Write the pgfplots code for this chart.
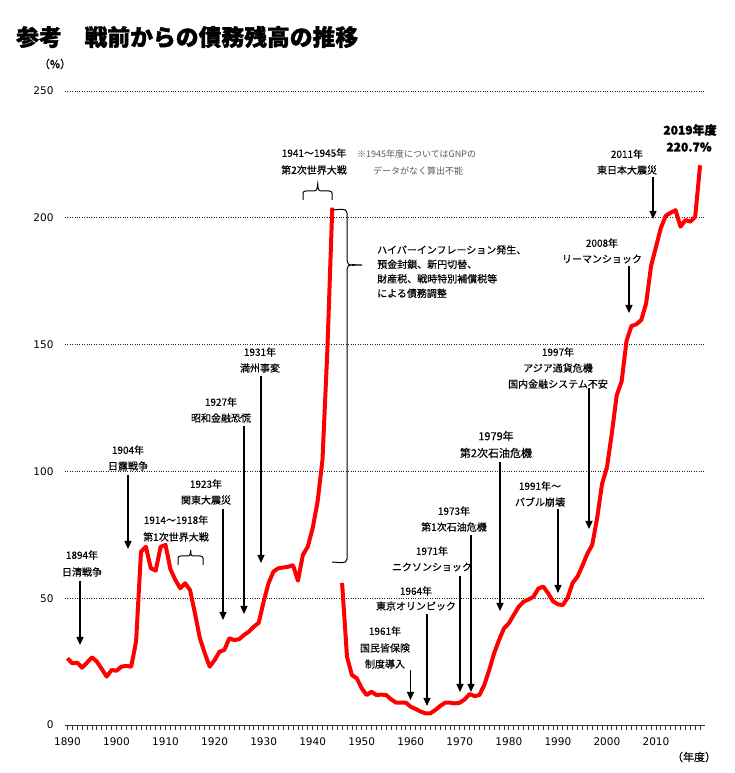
\documentclass[border=0pt]{standalone}
\usepackage{pgfplots}
\pgfplotsset{compat=1.18}
\usepackage{fontspec}
\setmainfont{DejaVu Sans}
\newfontfamily\jp[BoldFeatures={FakeBold=1.6}]{Noto Sans CJK JP}
\newfontfamily\jpl[FakeBold=0.35]{Noto Sans CJK JP}
\usetikzlibrary{arrows.meta}

% Government debt relative to GDP (GNP before the war), fiscal years
\pgfplotstableread{
year value
1890 26.3
1891 24.3
1892 24.6
1893 22.6
1894 24.6
1895 26.7
1896 25.0
1897 22.1
1898 19.1
1899 21.7
1900 21.4
1901 23.0
1902 23.3
1903 23.0
1904 33.0
1905 68.3
1906 70.3
1907 61.8
1908 60.9
1909 70.3
1910 71.0
1911 61.4
1912 57.2
1913 53.9
1914 55.9
1915 53.2
1916 44.0
1917 34.2
1918 28.3
1919 23.0
1920 25.6
1921 28.9
1922 29.6
1923 34.2
1924 33.5
1925 33.8
1926 35.5
1927 36.8
1928 38.8
1929 40.3
1930 48.6
1931 55.9
1932 60.5
1933 61.8
1934 62.1
1935 62.4
1936 63.0
1937 56.9
1938 67.0
1939 70.3
1940 77.6
1941 88.0
1942 104.5
1943 148.0
1944 204.0
}\prewar

\pgfplotstableread{
year value
1946 56.0
1947 26.9
1948 19.7
1949 18.4
1950 14.5
1951 11.8
1952 13.1
1953 11.8
1954 12.0
1955 11.8
1956 10.1
1957 8.8
1958 8.8
1959 8.8
1960 7.2
1961 6.3
1962 5.3
1963 4.6
1964 4.6
1965 5.9
1966 7.5
1967 8.8
1968 8.8
1969 8.5
1970 8.8
1971 10.1
1972 12.2
1973 11.4
1974 11.8
1975 15.8
1976 21.7
1977 28.3
1978 33.5
1979 38.1
1980 40.1
1981 43.4
1982 46.6
1983 48.6
1984 49.5
1985 50.5
1986 53.8
1987 54.6
1988 52.0
1989 48.8
1990 47.6
1991 47.3
1992 50.2
1993 56.0
1994 58.5
1995 62.8
1996 67.5
1997 71.0
1998 81.5
1999 95.0
2000 101.5
2001 115.0
2002 130.0
2003 135.5
2004 151.5
2005 157.3
2006 158.0
2007 159.7
2008 166.3
2009 181.0
2010 188.5
2011 196.0
2012 200.8
2013 202.0
2014 203.0
2015 196.5
2016 199.1
2017 198.5
2018 200.4
2019 220.7
}\postwar

\begin{document}
\begin{tikzpicture}
\path[use as bounding box] (0,0) rectangle (734pt,773pt);

\begin{axis}[
  at={(65pt,48pt)}, anchor=south west,
  scale only axis, width=640pt, height=634pt,
  xmin=1889.5, xmax=2020, ymin=0, ymax=250,
  axis x line*=bottom, axis y line*=left,
  y axis line style={draw=none},
  x axis line style={black!80, line width=1pt},
  xtick={1890,1900,...,2010},
  minor xtick={1890,1891,...,2019},
  tick align=outside,
  major tick length=5pt, minor tick length=5pt,
  xtick style={black!80, line width=0.8pt},
  ytick={0,50,...,250}, ytick style={draw=none},
  ymajorgrids, grid style={dotted, black!85, line width=0.9pt},
  /pgf/number format/assume math mode=true,
  /pgf/number format/1000 sep={},
  tick label style={font=\fontsize{10.5}{12}\selectfont, text=black},
  xticklabel style={yshift=-4pt},
  yticklabel style={xshift=-3pt},
  clip=false,
]
\addplot[red, line width=4pt, line join=round] table[x=year, y=value] {\prewar};
\addplot[red, line width=4pt, line join=round] table[x=year, y=value] {\postwar};
\end{axis}

% annotations, positioned with y measured downward from the top edge
\begin{scope}[x=1pt, y=-1pt, yshift=773pt,
  lbl/.style={font=\jpl\fontsize{10}{12}\selectfont, text=black, align=center, inner sep=0pt},
  arr/.style={line width=1.2pt, black, -{Triangle[length=8pt,width=7pt]}},
  brace/.style={line width=1pt, black}]

\node[anchor=west, font=\jp\bfseries\fontsize{22.8}{25}\selectfont, inner sep=0pt] at (16,37) {参考　戦前からの債務残高の推移};
\node[font=\jpl\fontsize{11}{12}\selectfont, inner sep=0pt] at (55,64) {（\%）};
\node[font=\jpl\fontsize{11}{12}\selectfont, inner sep=0pt] at (694,757) {（年度）};

% 1894
\node[lbl] at (82,555) {1894年};
\node[lbl] at (82,572) {日清戦争};
\draw[arr] (80,581) -- (80,645);
% 1904
\node[lbl] at (128,450) {1904年};
\node[lbl] at (128,466) {日露戦争};
\draw[arr] (128,475) -- (128,549);
% 1914-1918
\node[lbl] at (176,520) {1914～1918年};
\node[lbl] at (176,537) {第1次世界大戦};
\draw[brace] (178,565) -- (178,558) to[out=90,in=180] (181,556) -- (188,556) to[out=0,in=-90] (190.7,550) to[out=-90,in=180] (193,556) -- (200,556) to[out=0,in=90] (203,558) -- (203,565);
% 1923
\node[lbl] at (206,484) {1923年};
\node[lbl] at (206,500) {関東大震災};
\draw[arr] (223,509) -- (223,620);
% 1927
\node[lbl] at (221,402) {1927年};
\node[lbl] at (221,418) {昭和金融恐慌};
\draw[arr] (244,426) -- (244,614);
% 1931
\node[lbl] at (260,352) {1931年};
\node[lbl] at (260,368) {満州事変};
\draw[arr] (261,376) -- (261,563);
% 1941-1945
\node[lbl] at (314,153) {1941～1945年};
\node[lbl] at (314,170) {第2次世界大戦};
\draw[brace] (303,200) -- (303,193) to[out=90,in=180] (306,191) -- (314,191) to[out=0,in=-90] (317.7,184) to[out=-90,in=180] (321,191) -- (329,191) to[out=0,in=90] (332,193) -- (332,200);
\node[anchor=west, font=\jp\fontsize{9}{10}\selectfont, text=black!65, inner sep=0pt] at (357,154) {※1945年度についてはGNPの};
\node[anchor=west, font=\jp\fontsize{9}{10}\selectfont, text=black!65, inner sep=0pt] at (373,171) {データがなく算出不能};
% post-war adjustment bracket
\draw[brace] (332,210) to[out=0,in=90] (347,213) -- (347,261) to[out=-90,in=180] (362,265) to[out=180,in=90] (347,269) -- (347,559) to[out=-90,in=0] (332,562);
\node[anchor=north west, font=\jpl\fontsize{10}{14.5}\selectfont, text=black, align=left, inner sep=0pt] at (377,245)
  {ハイパーインフレーション発生、\\預金封鎖、新円切替、\\財産税、戦時特別補償税等\\による債務調整};
% 1961
\node[lbl] at (385,631) {1961年};
\node[lbl] at (385,648) {国民皆保険};
\node[lbl] at (385,664) {制度導入};
\draw[arr] (410.5,670) -- (410.5,700);
% 1964
\node[lbl] at (416,591) {1964年};
\node[lbl] at (416,606) {東京オリンピック};
\draw[arr] (427,614) -- (427,706);
% 1971
\node[lbl] at (432,551) {1971年};
\node[lbl] at (432,567) {ニクソンショック};
\draw[arr] (460,576) -- (460,692);
% 1973
\node[lbl] at (454,511) {1973年};
\node[lbl] at (454,527) {第1次石油危機};
\draw[arr] (471,535) -- (471,692);
% 1979
\node[lbl, font=\jpl\fontsize{11}{12}\selectfont] at (496,436) {1979年};
\node[lbl, font=\jpl\fontsize{11}{12}\selectfont] at (496,453) {第2次石油危機};
\draw[arr] (500,462) -- (500,611);
% 1991
\node[lbl] at (540,486) {1991年～};
\node[lbl] at (540,502) {バブル崩壊};
\draw[arr] (558,509) -- (558,593);
% 1997
\node[lbl] at (558,352) {1997年};
\node[lbl] at (558,368) {アジア通貨危機};
\node[lbl] at (558,384) {国内金融システム不安};
\draw[arr] (589,388) -- (589,529);
% 2008
\node[lbl] at (602,243) {2008年};
\node[lbl] at (602,259) {リーマンショック};
\draw[arr] (629,266) -- (629,313);
% 2011
\node[lbl] at (627,154) {2011年};
\node[lbl] at (627,170) {東日本大震災};
\draw[arr] (653,177) -- (653,219);
% latest value
\node[font=\jp\bfseries\fontsize{12}{14}\selectfont, inner sep=0pt] at (690,130) {2019年度};
\node[font=\jp\bfseries\fontsize{12}{14}\selectfont, inner sep=0pt] at (689,147) {220.7\%};
\end{scope}
\end{tikzpicture}
\end{document}
